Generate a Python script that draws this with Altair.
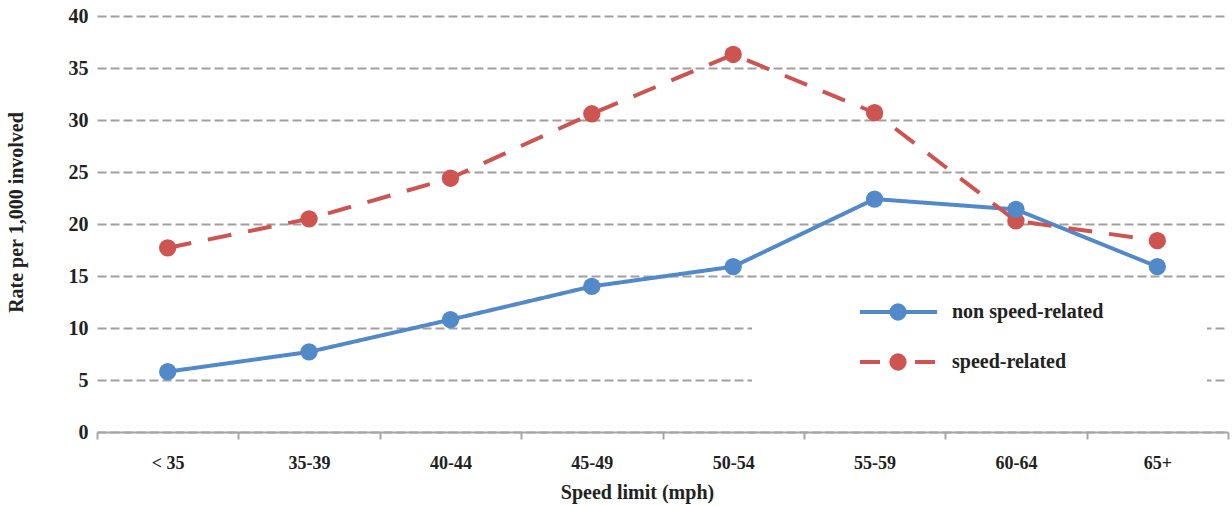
import altair as alt
import pandas as pd

# Speed-limit bands on the x axis
speed_bins = ["< 35", "35-39", "40-44", "45-49", "50-54", "55-59", "60-64", "65+"]
# Rate per 1,000 involved, per series
non_speed_related = [5.8, 7.7, 10.8, 14.0, 15.9, 22.4, 21.4, 15.9]
speed_related = [17.7, 20.5, 24.4, 30.6, 36.3, 30.7, 20.3, 18.4]

series_names = ["non speed-related", "speed-related"]
series_colors = ["#5189c9", "#cd5450"]

FONT = "Liberation Serif"
INK = "#222222"

rows = []
for name, values in zip(series_names, [non_speed_related, speed_related]):
    for b, v in zip(speed_bins, values):
        rows.append({"bin": b, "rate": v, "series": name})
df = pd.DataFrame(rows)
legend_df = pd.DataFrame({"series": series_names})

x_enc = alt.X(
    "bin:N",
    sort=speed_bins,
    scale=alt.Scale(type="band", paddingInner=0, paddingOuter=0),
    axis=alt.Axis(
        title="Speed limit (mph)",
        tickBand="extent",
        tickSize=7,
        tickWidth=2,
        tickColor="#a6a6a6",
        domainColor="#a6a6a6",
        domainWidth=2,
        labelAngle=0,
        labelPadding=15,
        labelFont=FONT,
        labelFontSize=18,
        labelFontWeight="bold",
        labelColor=INK,
        titleFont=FONT,
        titleFontSize=20,
        titleFontWeight="bold",
        titleColor=INK,
        titleX=540,
        titleY=60,
        titleBaseline="middle",
        grid=False,
    ),
)
y_scale = alt.Scale(domain=[0, 40], nice=False)
y_enc = alt.Y(
    "rate:Q",
    scale=y_scale,
    axis=alt.Axis(
        title="Rate per 1,000 involved",
        values=[0, 5, 10, 15, 20, 25, 30, 35, 40],
        ticks=False,
        domain=False,
        labelPadding=9,
        labelFont=FONT,
        labelFontSize=20,
        labelFontWeight="bold",
        labelColor=INK,
        titleFont=FONT,
        titleFontSize=20,
        titleFontWeight="bold",
        titleColor=INK,
        titleX=-71,
        titleY=196,
        grid=True,
        gridColor="#a0a0a0",
        gridDash=[9, 4],
        gridWidth=2,
    ),
)

color_scale = alt.Scale(domain=series_names, range=series_colors)
color_enc = alt.Color("series:N", scale=color_scale, legend=None)

base = alt.Chart(df)

lines = base.mark_line(strokeWidth=4).encode(
    x=x_enc,
    y=y_enc,
    color=color_enc,
    strokeDash=alt.StrokeDash(
        "series:N",
        scale=alt.Scale(domain=series_names, range=[[1, 0], [24, 17]]),
        legend=None,
    ),
    order=alt.Order("series:N", sort="descending"),
)

points = base.mark_circle(size=300, opacity=1).encode(
    x=x_enc,
    y=y_enc,
    color=color_enc,
    order=alt.Order("series:N", sort="descending"),
)

# White panel that holds the legend inside the plot
legend_panel = alt.Chart(pd.DataFrame({"k": [0]})).mark_rect(color="white").encode(
    x=alt.value(655), x2=alt.value(1110), y=alt.value(270), y2=alt.value(390)
)

main = alt.layer(legend_panel, lines, points)

# Legend rows: a line sample with a marker, then the series name
row_y = alt.Y(
    "series:N",
    scale=alt.Scale(type="point", domain=series_names, range=[296, 346], padding=0),
    axis=None,
)
leg = alt.Chart(legend_df)
leg_line = leg.mark_rule(strokeWidth=4).encode(
    x=alt.value(763),
    x2=alt.value(840),
    y=row_y,
    color=color_enc,
    strokeDash=alt.StrokeDash(
        "series:N",
        scale=alt.Scale(domain=series_names, range=[[1, 0], [20, 35]]),
        legend=None,
    ),
)
leg_dot = leg.mark_circle(size=300, opacity=1).encode(
    x=alt.value(801), y=row_y, color=color_enc
)
leg_text = leg.mark_text(
    align="left",
    baseline="middle",
    font=FONT,
    fontSize=20,
    fontWeight="bold",
    color=INK,
).encode(x=alt.value(855), y=row_y, text="series:N")

legend_block = alt.layer(leg_line, leg_dot, leg_text)

chart = (
    alt.layer(main, legend_block)
    .resolve_scale(y="independent", strokeDash="independent")
    .properties(
        width=1131,
        height=416,
        padding={"left": 97, "top": 16, "right": 4, "bottom": 74},
        autosize=alt.AutoSizeParams(type="none"),
        background="white",
    )
    .configure_view(stroke=None)
)

chart.save("out.html", embed_options={"renderer": "svg", "actions": False})
